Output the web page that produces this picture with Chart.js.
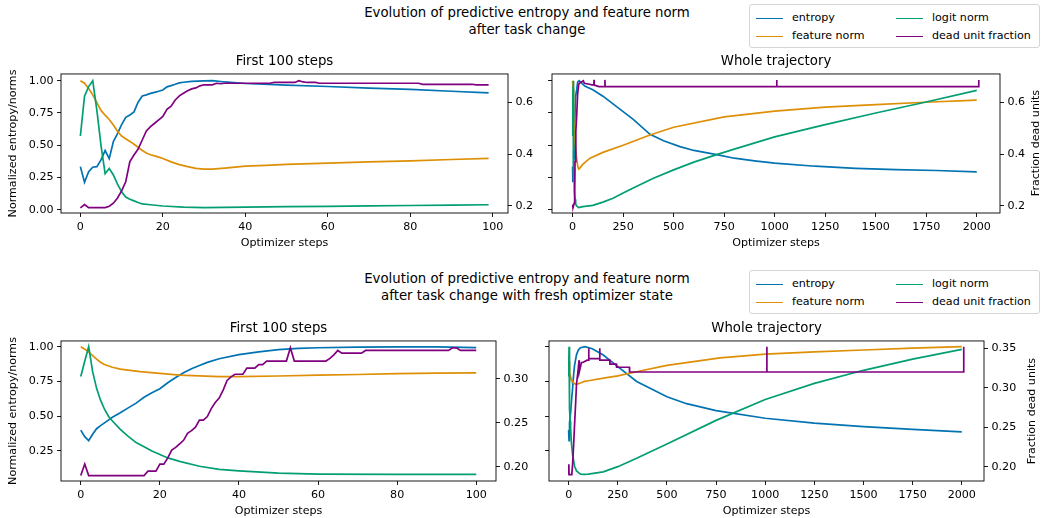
<!DOCTYPE html>
<html>
<head>
<meta charset="utf-8">
<title>Predictive entropy and feature norm</title>
<script src="https://cdn.jsdelivr.net/npm/chart.js@4.4.1/dist/chart.umd.min.js"></script>
<style>
  body { margin: 0; background: #fff; }
  #fig { position: relative; width: 1042px; height: 518px; overflow: hidden; background: #fff;
         font-family: "DejaVu Sans", sans-serif; color: #000; }
  canvas { position: absolute; }
  .suptitle { position: absolute; left: 277px; width: 500px; text-align: center; font-size: 13.3px; line-height: 17px; }
  .legend { position: absolute; left: 749px; width: 291px; height: 44px; box-sizing: border-box;
            border: 1px solid #d5d5d5; border-radius: 3px; background: #fff; font-size: 11.1px; }
  .legend .item { position: absolute; height: 14px; line-height: 14px; white-space: nowrap; }
  .legend .swatch { display: inline-block; width: 27px; border-top: 1.7px solid; vertical-align: middle; margin-right: 9px; }
  .ylabel2 { position: absolute; width: 160px; height: 14px; line-height: 14px; text-align: center;
             font-size: 11.1px; white-space: nowrap; transform: rotate(-90deg); }
</style>
</head>
<body>
<div id="fig">
  <div class="suptitle" style="top:4px">Evolution of predictive entropy and feature norm<br>after task change</div>
  <div class="suptitle" style="top:270px">Evolution of predictive entropy and feature norm<br>after task change with fresh optimizer state</div>
  <div class="legend" id="legendTop" style="top:4px"></div>
  <div class="legend" id="legendBottom" style="top:270px"></div>
  <canvas id="tl" width="545" height="201" style="left:0px;top:52px"></canvas>
  <canvas id="tr" width="497" height="201" style="left:545px;top:52px"></canvas>
  <canvas id="bl" width="540" height="202" style="left:0px;top:319px"></canvas>
  <canvas id="br" width="502" height="202" style="left:540px;top:319px"></canvas>
  <div class="ylabel2" style="left:956px;top:136px">Fraction dead units</div>
  <div class="ylabel2" style="left:952px;top:404px">Fraction dead units</div>
</div>
<script>
// ---- data ----
const LEGEND_LABELS = ['entropy', 'feature norm', 'logit norm', 'dead unit fraction'];

const FIRST_X_TICKS = [0, 20, 40, 60, 80, 100];
const FIRST_X_LABELS = ['0', '20', '40', '60', '80', '100'];
const WHOLE_X_TICKS = [0, 250, 500, 750, 1000, 1250, 1500, 1750, 2000];
const WHOLE_X_LABELS = ['0', '250', '500', '750', '1000', '1250', '1500', '1750', '2000'];

const TOP_Y_TICKS = [0, 0.25, 0.5, 0.75, 1];
const TOP_Y_LABELS = ['0.00', '0.25', '0.50', '0.75', '1.00'];
const BOTTOM_Y_TICKS = [0.25, 0.5, 0.75, 1];
const BOTTOM_Y_LABELS = ['0.25', '0.50', '0.75', '1.00'];
const TOP_DEAD_TICKS = [0.2, 0.4, 0.6];
const TOP_DEAD_LABELS = ['0.2', '0.4', '0.6'];
const BL_DEAD_TICKS = [0.2, 0.25, 0.3];
const BL_DEAD_LABELS = ['0.20', '0.25', '0.30'];
const BR_DEAD_TICKS = [0.2, 0.25, 0.3, 0.35];
const BR_DEAD_LABELS = ['0.20', '0.25', '0.30', '0.35'];

// top row, first 100 steps
const TL_ENTROPY_STEPS = [0,1,2,3,4,5,6,7,8,9,10,11,12,13,14,15,16,17,18,19,20,21,22,23,24,25,27,30,32,35,40,50,60,70,80,90,99];
const TL_ENTROPY = [0.335,0.214,0.296,0.33,0.335,0.387,0.459,0.397,0.528,0.59,0.66,0.716,0.735,0.758,0.833,0.881,0.89,0.902,0.91,0.918,0.928,0.952,0.962,0.972,0.983,0.988,0.994,0.998,1.0,0.99,0.978,0.965,0.955,0.943,0.932,0.918,0.906];
const TL_FEATURE_STEPS = [0,1,2,3,4,5,6,7,8,9,10,11,12,13,14,15,16,17,18,19,20,22,24,26,28,30,32,35,40,45,50,60,70,80,90,99];
const TL_FEATURE = [1.0,0.98,0.94,0.89,0.83,0.77,0.733,0.70,0.657,0.608,0.572,0.55,0.53,0.508,0.485,0.46,0.44,0.427,0.418,0.408,0.398,0.372,0.35,0.335,0.322,0.316,0.316,0.324,0.338,0.345,0.352,0.362,0.372,0.38,0.39,0.398];
const TL_LOGIT_STEPS = [0,1,2,3,4,5,6,7,8,9,10,11,12,13,14,15,17,20,25,30,35,40,50,60,70,80,90,99];
const TL_LOGIT = [0.572,0.88,0.954,1.0,0.77,0.5,0.28,0.32,0.27,0.2,0.14,0.1,0.082,0.07,0.057,0.046,0.04,0.03,0.022,0.018,0.019,0.022,0.025,0.028,0.031,0.034,0.037,0.04];
const TL_DEAD_STEPS = [0,1,2,6,7,8,9,10,11,12,13,14,15,16,17,18,19,20,21,22,23,24,25,26,27,28,29,30,32,33,34,35,46,47,52,53,54,55,57,58,82,83,95,96,99];
const TL_DEAD = [0.192,0.205,0.193,0.193,0.198,0.21,0.23,0.258,0.293,0.371,0.397,0.42,0.455,0.49,0.507,0.52,0.533,0.546,0.574,0.586,0.61,0.626,0.636,0.646,0.653,0.657,0.665,0.669,0.669,0.675,0.673,0.675,0.675,0.678,0.678,0.685,0.68,0.678,0.678,0.675,0.675,0.671,0.671,0.669,0.669];

// top row, whole trajectory
const TR_ENTROPY_STEPS = [0,1,2,4,6,7,10,15,20,25,32,60,100,150,200,250,300,383,450,531,600,713,800,900,1000,1200,1400,1600,1800,2000];
const TR_ENTROPY = [0.335,0.214,0.296,0.335,0.459,0.397,0.66,0.881,0.928,0.988,1.0,0.958,0.93,0.88,0.82,0.76,0.70,0.585,0.535,0.49,0.46,0.428,0.40,0.38,0.362,0.338,0.322,0.312,0.305,0.295];
const TR_FEATURE_STEPS = [0,2,4,6,8,10,15,20,25,30,35,50,86,150,250,383,500,750,1000,1250,1500,1744,2000];
const TR_FEATURE = [1.0,0.94,0.83,0.733,0.657,0.572,0.46,0.398,0.342,0.316,0.322,0.352,0.40,0.445,0.50,0.58,0.64,0.72,0.765,0.795,0.815,0.833,0.85];
const TR_LOGIT_STEPS = [0,1,2,3,4,5,6,7,8,10,12,15,20,30,50,100,150,200,250,300,400,500,600,713,800,1000,1250,1500,1744,2000];
const TR_LOGIT = [0.572,0.88,0.954,1.0,0.77,0.5,0.28,0.32,0.27,0.14,0.082,0.046,0.03,0.018,0.025,0.035,0.06,0.09,0.13,0.17,0.245,0.31,0.37,0.428,0.47,0.565,0.66,0.75,0.833,0.925];
const TR_DEAD_STEPS = [0,1,2,6,8,10,12,16,20,25,30,33,53,58,83,96,105,106,107,130,159,160,161,1009,1010,1011,2009,2010];
const TR_DEAD = [0.192,0.205,0.193,0.193,0.21,0.258,0.371,0.49,0.546,0.636,0.669,0.675,0.685,0.675,0.671,0.669,0.669,0.688,0.668,0.662,0.662,0.688,0.662,0.662,0.688,0.662,0.662,0.688];

// bottom row, first 100 steps
const BL_ENTROPY_STEPS = [0,1,2,3,4,5,6,8,10,12,14,16,18,20,22,24,26,28,30,32,35,40,45,50,55,60,70,80,90,100];
const BL_ENTROPY = [0.40,0.353,0.325,0.37,0.41,0.432,0.452,0.492,0.525,0.56,0.594,0.636,0.668,0.698,0.74,0.778,0.812,0.841,0.865,0.887,0.913,0.943,0.963,0.978,0.987,0.992,0.997,0.999,0.998,0.993];
const BL_FEATURE_STEPS = [0,1,2,3,4,5,6,8,10,15,20,25,30,35,40,50,60,70,80,90,100];
const BL_FEATURE = [1.0,0.982,0.962,0.935,0.91,0.888,0.872,0.852,0.838,0.82,0.808,0.796,0.79,0.785,0.784,0.789,0.795,0.8,0.806,0.81,0.812];
const BL_LOGIT_STEPS = [0,1,2,3,4,5,6,7,8,10,12,14,16,18,20,22,25,30,35,40,50,60,80,100];
const BL_LOGIT = [0.785,0.895,1.0,0.82,0.70,0.615,0.55,0.5,0.465,0.405,0.355,0.31,0.28,0.25,0.225,0.2,0.175,0.14,0.118,0.107,0.09,0.084,0.082,0.082];
const BL_DEAD_STEPS = [0,1,2,16,17,19,20,21,22,23,24,25,26,27,28,29,30,31,32,33,34,35,36,37,38,39,41,42,44,45,46,47,52,53,54,62,63,64,65,66,71,72,93,94,95,96,100];
const BL_DEAD = [0.19,0.203,0.19,0.19,0.195,0.195,0.203,0.203,0.21,0.219,0.222,0.226,0.23,0.238,0.241,0.245,0.253,0.253,0.257,0.266,0.273,0.278,0.287,0.298,0.302,0.305,0.305,0.312,0.312,0.316,0.316,0.32,0.32,0.335,0.32,0.32,0.323,0.327,0.332,0.329,0.329,0.332,0.332,0.335,0.335,0.332,0.332];

// bottom row, whole trajectory
const BR_ENTROPY_STEPS = [0,1,2,3,4,6,10,16,20,26,30,40,50,60,83,120,176,250,346,500,600,750,1000,1250,1500,1750,2000];
const BR_ENTROPY = [0.40,0.353,0.325,0.37,0.41,0.452,0.525,0.636,0.698,0.812,0.865,0.943,0.978,0.992,1.0,0.985,0.94,0.856,0.75,0.64,0.59,0.54,0.485,0.45,0.425,0.405,0.387];
const BR_FEATURE_STEPS = [0,2,4,6,8,10,15,20,25,30,35,40,50,60,80,100,193,250,363,500,770,1000,1250,1500,1750,2000];
const BR_FEATURE = [0.93,0.895,0.846,0.811,0.792,0.779,0.763,0.751,0.74,0.735,0.73,0.729,0.734,0.739,0.75,0.755,0.777,0.79,0.825,0.865,0.92,0.947,0.963,0.976,0.99,1.0];
const BR_LOGIT_STEPS = [0,1,2,3,4,6,8,10,14,20,30,40,60,80,100,176,250,346,500,750,1000,1250,1500,1750,2000];
const BR_LOGIT = [0.785,0.895,1.0,0.82,0.70,0.55,0.465,0.405,0.31,0.225,0.14,0.107,0.084,0.082,0.083,0.1,0.137,0.197,0.30,0.47,0.62,0.736,0.83,0.91,0.98];
const BR_DEAD_STEPS = [0,1,2,16,20,25,30,35,40,47,53,54,65,72,94,101,102,103,130,157,158,159,209,210,243,244,309,310,1007,1008,1009,2009,2010];
const BR_DEAD = [0.19,0.203,0.19,0.19,0.203,0.226,0.253,0.278,0.305,0.32,0.335,0.32,0.332,0.332,0.335,0.335,0.35,0.337,0.337,0.337,0.35,0.335,0.335,0.33,0.33,0.326,0.326,0.32,0.32,0.352,0.32,0.32,0.352];

// ---- styling ----
const FONT = 'DejaVu Sans';
const COLORS = ['#0173b2', '#de8f05', '#029e73', '#800080']; // entropy, feature, logit, dead
const TICK_FONT = { family: FONT, size: 11.1 };
const TITLE_FONT = { family: FONT, size: 13.3, weight: 'normal' };

function pairs(xs, ys) {
    return xs.map((x, i) => ({ x: x, y: ys[i] }));
}

function line(label, xs, ys, color, axis, order) {
    return {
        label: label,
        data: pairs(xs, ys),
        borderColor: color,
        backgroundColor: color,
        borderWidth: 1.7,
        pointRadius: 0,
        tension: 0,
        fill: false,
        yAxisID: axis,
        order: order
    };
}

// spines all round the plot area
const framePlugin = {
    id: 'frame',
    afterDatasetsDraw(chart) {
        const a = chart.chartArea;
        const ctx = chart.ctx;
        ctx.save();
        ctx.strokeStyle = '#000';
        ctx.lineWidth = 0.9;
        ctx.strokeRect(a.left, a.top, a.right - a.left, a.bottom - a.top);
        ctx.restore();
    }
};

function axis(opts) {
    return {
        type: 'linear',
        position: opts.position,
        min: opts.min,
        max: opts.max,
        bounds: 'data',
        afterBuildTicks: (s) => { s.ticks = opts.ticks.map(v => ({ value: v })); },
        afterFit: (s) => {
            if (opts.position === 'bottom') s.height = opts.size; else s.width = opts.size;
        },
        grid: { drawOnChartArea: false, drawTicks: true, tickLength: 4, color: '#000', lineWidth: 0.9 },
        border: { display: false },
        ticks: {
            color: '#000', font: TICK_FONT, padding: 3.5, autoSkip: false, maxRotation: 0,
            callback: (v, i) => opts.labels ? opts.labels[i] : ''
        },
        title: opts.title
            ? { display: true, text: opts.title, color: '#000', font: TICK_FONT, padding: opts.titlePad }
            : { display: false }
    };
}

function makePanel(id, p) {
    new Chart(document.getElementById(id), {
        type: 'line',
        data: {
            datasets: [
                line(LEGEND_LABELS[3], p.dead[0], p.dead[1], COLORS[3], 'y2', 0),
                line(LEGEND_LABELS[2], p.logit[0], p.logit[1], COLORS[2], 'y', 1),
                line(LEGEND_LABELS[1], p.feature[0], p.feature[1], COLORS[1], 'y', 2),
                line(LEGEND_LABELS[0], p.entropy[0], p.entropy[1], COLORS[0], 'y', 3)
            ]
        },
        options: {
            responsive: false,
            animation: false,
            devicePixelRatio: 1,
            layout: { padding: 0 },
            plugins: {
                legend: { display: false },
                tooltip: { enabled: false },
                title: {
                    display: true, text: p.title, color: '#000', font: TITLE_FONT,
                    padding: { top: 2, bottom: 4 }, fullSize: false
                }
            },
            scales: {
                x: axis({ position: 'bottom', min: p.xRange[0], max: p.xRange[1], ticks: p.xTicks, labels: p.xLabels,
                          size: 40, title: 'Optimizer steps', titlePad: { top: 0, bottom: 3 } }),
                y: axis({ position: 'left', min: p.yRange[0], max: p.yRange[1], ticks: p.yTicks, labels: p.yLabels,
                          size: p.leftWidth, title: p.yTitle, titlePad: { top: 6.6, bottom: 0 } }),
                y2: axis({ position: 'right', min: p.deadRange[0], max: p.deadRange[1], ticks: p.deadTicks,
                           labels: p.deadLabels, size: p.rightWidth })
            }
        },
        plugins: [framePlugin]
    });
}

makePanel('tl', {
    title: 'First 100 steps',
    entropy: [TL_ENTROPY_STEPS, TL_ENTROPY], feature: [TL_FEATURE_STEPS, TL_FEATURE],
    logit: [TL_LOGIT_STEPS, TL_LOGIT], dead: [TL_DEAD_STEPS, TL_DEAD],
    xRange: [-4.7, 103.7], xTicks: FIRST_X_TICKS, xLabels: FIRST_X_LABELS,
    yRange: [-0.024, 1.052], yTicks: TOP_Y_TICKS, yLabels: TOP_Y_LABELS, yTitle: 'Normalized entropy/norms',
    deadRange: [0.172, 0.711], deadTicks: TOP_DEAD_TICKS, deadLabels: TOP_DEAD_LABELS,
    leftWidth: 61, rightWidth: 37
});

makePanel('tr', {
    title: 'Whole trajectory',
    entropy: [TR_ENTROPY_STEPS, TR_ENTROPY], feature: [TR_FEATURE_STEPS, TR_FEATURE],
    logit: [TR_LOGIT_STEPS, TR_LOGIT], dead: [TR_DEAD_STEPS, TR_DEAD],
    xRange: [-102, 2115], xTicks: WHOLE_X_TICKS, xLabels: WHOLE_X_LABELS,
    yRange: [-0.024, 1.052], yTicks: TOP_Y_TICKS, yLabels: null, yTitle: null,
    deadRange: [0.172, 0.711], deadTicks: TOP_DEAD_TICKS, deadLabels: TOP_DEAD_LABELS,
    leftWidth: 7, rightWidth: 42
});

makePanel('bl', {
    title: 'First 100 steps',
    entropy: [BL_ENTROPY_STEPS, BL_ENTROPY], feature: [BL_FEATURE_STEPS, BL_FEATURE],
    logit: [BL_LOGIT_STEPS, BL_LOGIT], dead: [BL_DEAD_STEPS, BL_DEAD],
    xRange: [-5, 105], xTicks: FIRST_X_TICKS, xLabels: FIRST_X_LABELS,
    yRange: [0.034, 1.041], yTicks: BOTTOM_Y_TICKS, yLabels: BOTTOM_Y_LABELS, yTitle: 'Normalized entropy/norms',
    deadRange: [0.1838, 0.3428], deadTicks: BL_DEAD_TICKS, deadLabels: BL_DEAD_LABELS,
    leftWidth: 61, rightWidth: 44
});

makePanel('br', {
    title: 'Whole trajectory',
    entropy: [BR_ENTROPY_STEPS, BR_ENTROPY], feature: [BR_FEATURE_STEPS, BR_FEATURE],
    logit: [BR_LOGIT_STEPS, BR_LOGIT], dead: [BR_DEAD_STEPS, BR_DEAD],
    xRange: [-100, 2113], xTicks: WHOLE_X_TICKS, xLabels: WHOLE_X_LABELS,
    yRange: [0.034, 1.041], yTicks: BOTTOM_Y_TICKS, yLabels: null, yTitle: null,
    deadRange: [0.1819, 0.3593], deadTicks: BR_DEAD_TICKS, deadLabels: BR_DEAD_LABELS,
    leftWidth: 9, rightWidth: 58
});

// legends (two columns: entropy / feature norm, logit norm / dead unit fraction)
function buildLegend(id) {
    const box = document.getElementById(id);
    const slots = [[6, 6], [6, 24], [146, 6], [146, 24]];
    LEGEND_LABELS.forEach((label, i) => {
        const item = document.createElement('div');
        item.className = 'item';
        item.style.left = slots[i][0] + 'px';
        item.style.top = slots[i][1] + 'px';
        const sw = document.createElement('span');
        sw.className = 'swatch';
        sw.style.borderColor = COLORS[i];
        item.appendChild(sw);
        item.appendChild(document.createTextNode(label));
        box.appendChild(item);
    });
}
buildLegend('legendTop');
buildLegend('legendBottom');
</script>
</body>
</html>
